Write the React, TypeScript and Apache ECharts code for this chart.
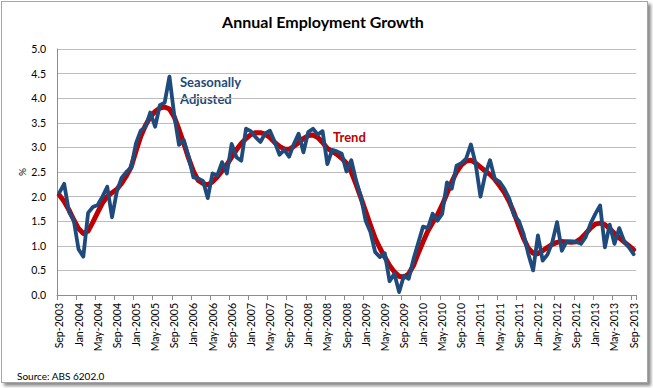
import React, { useEffect, useRef } from "react";
import * as echarts from "echarts";

const MONTHS = ["Jan", "Feb", "Mar", "Apr", "May", "Jun", "Jul", "Aug", "Sep", "Oct", "Nov", "Dec"];
const START_YEAR = 2003;
const START_MONTH = 8; // Sep
const MONTH_COUNT = 121;
const categories: string[] = Array.from({ length: MONTH_COUNT }, (_, k) => {
  const m = START_MONTH + k;
  return `${MONTHS[m % 12]}-${START_YEAR + Math.floor(m / 12)}`;
});

const seasonallyAdjusted = [
  2.08, 2.26, 1.69, 1.52, 0.93, 0.78, 1.67, 1.79, 1.83, 2.0,
  2.2, 1.58, 2.1, 2.38, 2.5, 2.59, 3.08, 3.34, 3.42, 3.71,
  3.42, 3.86, 3.91, 4.44, 3.66, 3.05, 3.15, 2.81, 2.39, 2.37,
  2.32, 1.97, 2.47, 2.43, 2.7, 2.47, 3.07, 2.8, 2.73, 3.38,
  3.33, 3.21, 3.11, 3.28, 3.34, 3.11, 2.85, 2.95, 2.81, 3.07,
  3.28, 2.9, 3.31, 3.38, 3.26, 3.33, 2.66, 2.95, 2.92, 2.87,
  2.51, 2.74, 2.33, 2.0, 1.51, 1.28, 0.87, 0.77, 0.85, 0.28,
  0.43, 0.06, 0.39, 0.33, 0.73, 1.06, 1.39, 1.36, 1.65, 1.51,
  1.65, 2.29, 2.16, 2.63, 2.68, 2.77, 3.06, 2.66, 2.0, 2.45,
  2.74, 2.36, 2.3, 2.16, 1.96, 1.62, 1.51, 1.24, 0.83, 0.5,
  1.21, 0.7, 0.82, 1.07, 1.48, 0.9, 1.09, 1.09, 1.08, 1.04,
  1.18, 1.45, 1.65, 1.82, 0.97, 1.43, 1.04, 1.36, 1.1, 0.97,
  0.83,
];

const trend = [
  2.03, 1.9, 1.73, 1.53, 1.35, 1.25, 1.3, 1.48, 1.68, 1.87,
  2.0, 2.08, 2.15, 2.27, 2.42, 2.6, 2.92, 3.22, 3.45, 3.62,
  3.73, 3.8, 3.82, 3.78, 3.62, 3.36, 3.08, 2.78, 2.52, 2.33,
  2.27, 2.24, 2.3, 2.4, 2.52, 2.65, 2.8, 2.95, 3.08, 3.18,
  3.26, 3.3, 3.3, 3.27, 3.2, 3.1, 3.02, 2.97, 2.96, 3.02,
  3.1, 3.18, 3.24, 3.25, 3.2, 3.1, 2.98, 2.92, 2.86, 2.78,
  2.68, 2.5, 2.25, 1.98, 1.7, 1.42, 1.15, 0.95, 0.77, 0.6,
  0.47, 0.38, 0.36, 0.43, 0.6, 0.85, 1.08, 1.3, 1.47, 1.63,
  1.83, 2.06, 2.3, 2.5, 2.64, 2.72, 2.74, 2.68, 2.6, 2.52,
  2.45, 2.35, 2.22, 2.08, 1.9, 1.67, 1.4, 1.15, 0.95, 0.85,
  0.84, 0.9, 0.97, 1.03, 1.07, 1.09, 1.08, 1.07, 1.08, 1.15,
  1.25, 1.36, 1.44, 1.46, 1.43, 1.35, 1.25, 1.16, 1.08, 1.0,
  0.92,
];

const TITLE = "Annual Employment Growth";
const SOURCE = "Source: ABS 6202.0";
const BLUE = "#1F4A7C";
const RED = "#C00000";
const FONT = "Lato, 'Open Sans', sans-serif";

export default function App() {
  const ref = useRef<HTMLDivElement>(null);
  useEffect(() => {
    if (!ref.current) return;
    const chart = echarts.init(ref.current, undefined, { renderer: "svg" });
    chart.setOption({
      animation: false,
      backgroundColor: "transparent",
      textStyle: { fontFamily: FONT },
      grid: { left: 57, top: 49, width: 579, height: 246 },
      xAxis: {
        type: "category",
        data: categories,
        boundaryGap: true,
        axisLine: { lineStyle: { color: "#8c8c8c", width: 1 } },
        axisTick: { show: true, interval: 3, length: 5, lineStyle: { color: "#8c8c8c" } },
        axisLabel: {
          interval: 3,
          rotate: 90,
          margin: 8,
          fontSize: 10.5,
          color: "#000",
          fontFamily: FONT,
        },
        splitLine: { show: false },
      },
      yAxis: {
        type: "value",
        min: 0,
        max: 5,
        interval: 0.5,
        axisLine: { show: true, lineStyle: { color: "#8c8c8c", width: 1 } },
        axisTick: { show: false },
        axisLabel: {
          formatter: (v: number) => v.toFixed(1),
          fontSize: 10.5,
          color: "#000",
          margin: 11,
          fontFamily: FONT,
        },
        splitLine: { show: true, lineStyle: { color: "#bdbdbd", width: 1 } },
      },
      series: [
        {
          name: "Trend",
          type: "line",
          data: trend,
          symbol: "none",
          lineStyle: { color: RED, width: 5, join: "round", cap: "round" },
          z: 2,
        },
        {
          name: "Seasonally Adjusted",
          type: "line",
          data: seasonallyAdjusted,
          symbol: "none",
          lineStyle: { color: BLUE, width: 3.8, join: "round", cap: "round" },
          z: 3,
        },
      ],
      graphic: [
        {
          type: "text",
          x: 323,
          y: 21,
          style: {
            text: TITLE,
            font: `bold 16px ${FONT}`,
            fill: "#000",
            textAlign: "center",
            textVerticalAlign: "middle",
          },
        },
        {
          type: "text",
          x: 22,
          y: 172,
          rotation: Math.PI / 2,
          style: {
            text: "%",
            font: `10px ${FONT}`,
            fill: "#000",
            textAlign: "center",
            textVerticalAlign: "middle",
          },
        },
        {
          type: "text",
          x: 180,
          y: 73,
          style: {
            text: "Seasonally\nAdjusted",
            font: `bold 13px ${FONT}`,
            lineHeight: 17,
            fill: BLUE,
            textAlign: "left",
            textVerticalAlign: "top",
          },
        },
        {
          type: "text",
          x: 333,
          y: 137,
          style: {
            text: "Trend",
            font: `bold 13px ${FONT}`,
            fill: RED,
            textAlign: "left",
            textVerticalAlign: "middle",
          },
        },
        {
          type: "text",
          x: 17,
          y: 376,
          style: {
            text: SOURCE,
            font: `10px ${FONT}`,
            fill: "#000",
            textAlign: "left",
            textVerticalAlign: "middle",
          },
        },
      ],
    });
    return () => chart.dispose();
  }, []);

  return (
    <div style={{ position: "absolute", left: 0, top: 0, width: 653, height: 388, background: "#fff" }}>
      <div
        style={{
          position: "absolute",
          left: 1,
          top: 1,
          width: 645,
          height: 380,
          border: "1px solid #a6a6a6",
          background: "#fff",
          boxShadow: "3px 3px 3px rgba(0,0,0,0.45)",
        }}
      />
      <div ref={ref} style={{ position: "absolute", left: 0, top: 0, width: 653, height: 388 }} />
    </div>
  );
}
